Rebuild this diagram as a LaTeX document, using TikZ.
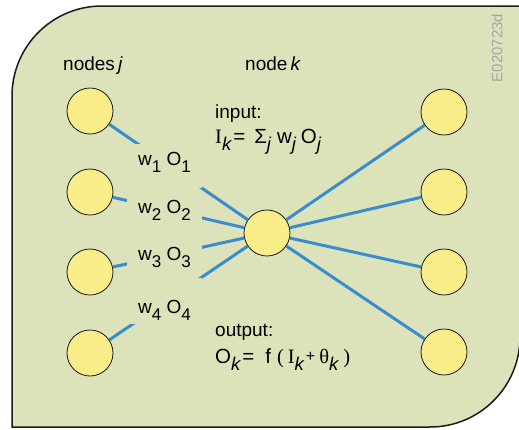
\documentclass[tikz,border=0pt]{standalone}
\usepackage{fontspec}
\setmainfont{Liberation Sans}
\newfontfamily\serifface{Liberation Serif}
\usetikzlibrary{positioning}
\definecolor{panelbg}{HTML}{DCE3BB}
\definecolor{unitfill}{HTML}{F9ED8A}
\definecolor{wireblue}{HTML}{3A8CCB}
\definecolor{ink}{HTML}{1A1A1A}
\definecolor{stampgray}{HTML}{A6A6A6}
\newcommand{\bigfont}{\fontsize{19}{23}\selectfont}
\newcommand{\formfont}{\fontsize{20.5}{23}\selectfont}
\newcommand{\dn}[1]{\raisebox{-7pt}{\fontsize{17}{17}\selectfont #1}}
\newcommand{\idn}[1]{\raisebox{-7pt}{\fontsize{18.5}{18}\selectfont\itshape #1}}
\tikzset{
  panel/.style={draw=ink,fill=panelbg,line width=1.5pt},
  unit/.style={circle,draw=ink,fill=unitfill,line width=0.8pt,
               minimum size=46pt,inner sep=0pt},
  wire/.style={draw=wireblue,line width=3pt},
  wlabel/.style={fill=panelbg,inner xsep=0pt,inner ysep=0pt,
                 minimum width=75pt,anchor=base,font=\bigfont},
  txt/.style={anchor=base west,inner sep=0pt,font=\bigfont},
  formula/.style={anchor=base west,inner sep=0pt,font=\formfont},
  stamp/.style={inner sep=0pt,text=stampgray,
                font=\fontsize{15}{15}\selectfont}
}
\begin{document}
\begin{tikzpicture}[x=1pt,y=-1pt]
  \useasboundingbox (0,0) rectangle (519,429);
  % background panel
  \draw[panel] (12,96) -- (12,427) -- (430,427)
    arc[start angle=90,end angle=0,radius=90] -- (520,6) -- (102,6)
    arc[start angle=270,end angle=180,radius=90] -- cycle;
  \node[stamp,rotate=90] (code) at (497,48) {E020723d};

  % headings
  \node[txt] (hj) at (63,70) {nodes\,{\itshape j}};
  \node[txt] (hk) at (245,70) {node\,{\itshape k}};

  % units
  \node[unit] (j1) at (90,111) {};
  \node[unit] (j2) at (90,192) {};
  \node[unit] (j3) at (90,272) {};
  \node[unit] (j4) at (90,353) {};
  \node[unit] (k) at (267,233) {};
  \node[unit] (o1) at (444,112) {};
  \node[unit] (o2) at (444,192) {};
  \node[unit] (o3) at (444,272) {};
  \node[unit] (o4) at (444,352) {};

  % connections
  \draw[wire] (j1) -- (k);
  \draw[wire] (j2) -- (k);
  \draw[wire] (j3) -- (k);
  \draw[wire] (j4) -- (k);
  \draw[wire] (k) -- (o1);
  \draw[wire] (k) -- (o2);
  \draw[wire] (k) -- (o3);
  \draw[wire] (k) -- (o4);

  % weights
  \node[wlabel,text height=21pt,text depth=23pt] (w1) at (164.5,165) {w\dn{1} O\dn{1}};
  \node[wlabel,text height=20pt,text depth=10pt] (w2) at (164.5,213) {w\dn{2} O\dn{2}};
  \node[wlabel,text height=20pt,text depth=10pt] (w3) at (164.5,260) {w\dn{3} O\dn{3}};
  \node[wlabel,text height=35pt,text depth=11pt] (w4) at (164.5,313) {w\dn{4} O\dn{4}};

  % formulas
  \node[txt] (inlab) at (215,118) {input:};
  \node[formula] (inform) at (215,143)
    {{\serifface I}\idn{k}\hspace{2pt}=\hspace{9pt}Σ\idn{j}\hspace{6pt}w\idn{j}\hspace{5pt}O\idn{j}};
  \node[txt] (outlab) at (215,336) {output:};
  \node[formula] (outform) at (215,363)
    {O\idn{k}\hspace{2pt}=\hspace{11pt}f\hspace{6pt}{\serifface (}\hspace{4pt}{\serifface I}\idn{k}\hspace{2pt}{\fontsize{16}{16}\selectfont\raisebox{2pt}{+}}\hspace{4pt}{\serifface θ}\idn{k}\hspace{5pt}{\serifface )}};
\end{tikzpicture}
\end{document}
